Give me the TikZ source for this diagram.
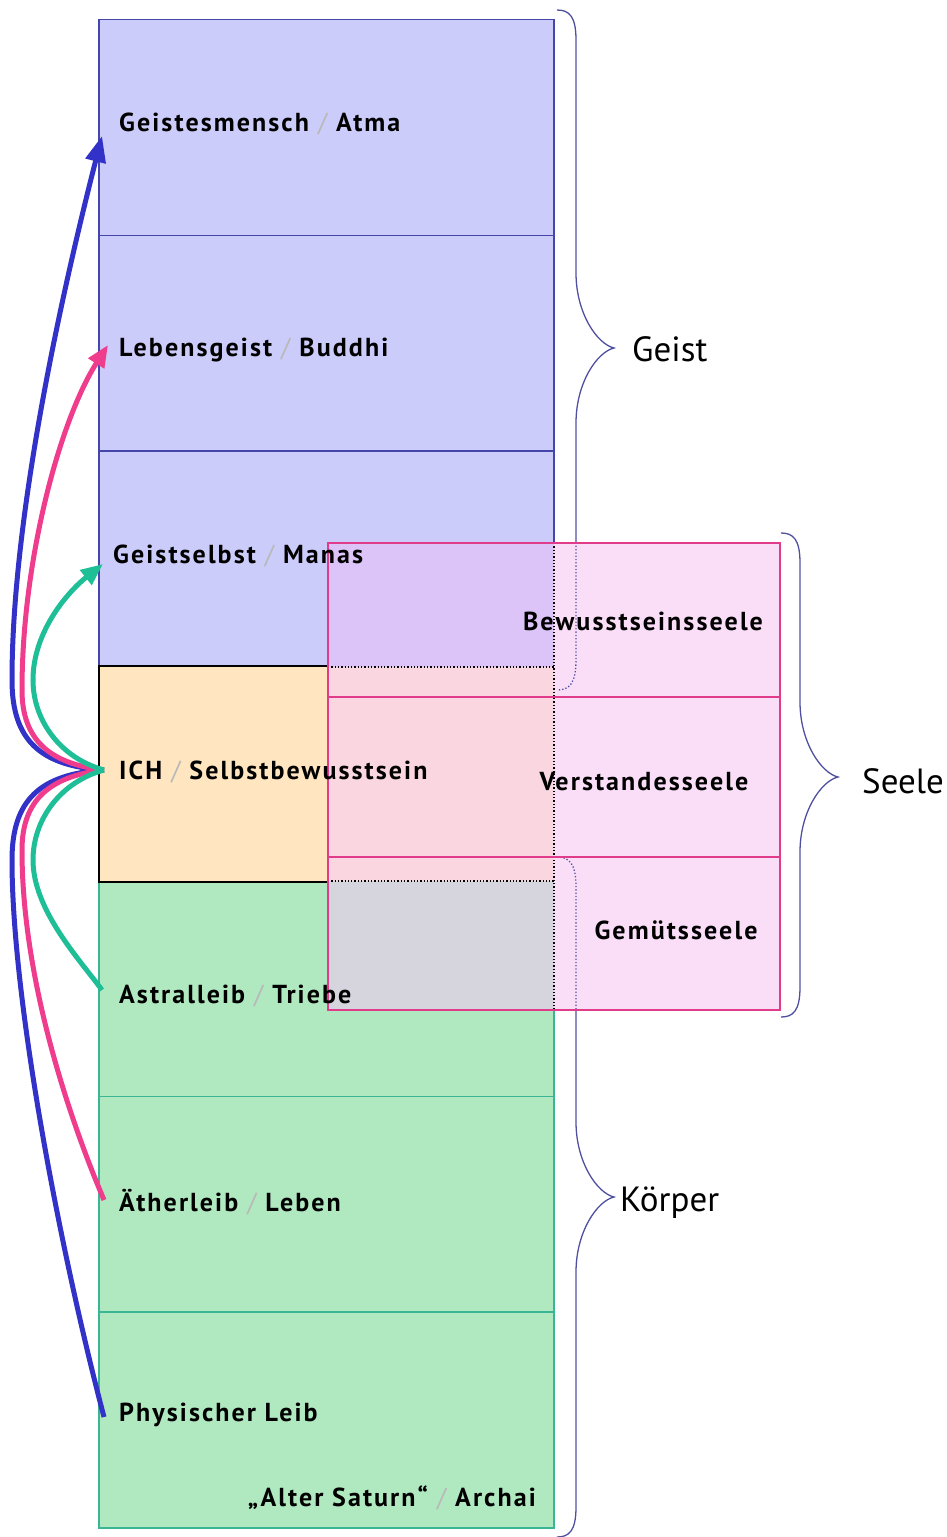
\documentclass[tikz,border=0pt]{standalone}
\usepackage{fontspec}
\setmainfont{PT Sans}
\newfontfamily\lblfont{PT Sans}[LetterSpace=8]
\usetikzlibrary{arrows.meta}
\definecolor{geistfill}{RGB}{204,204,250}
\definecolor{geistdraw}{RGB}{70,70,170}
\definecolor{ichfill}{RGB}{255,230,192}
\definecolor{kfill}{RGB}{176,232,192}
\definecolor{kdraw}{RGB}{60,180,150}
\definecolor{sdraw}{RGB}{225,60,140}
\definecolor{sright}{RGB}{250,222,248}
\definecolor{ovpurple}{RGB}{220,196,248}
\definecolor{ovorange}{RGB}{250,214,224}
\definecolor{ovgreen}{RGB}{214,212,220}
\definecolor{barrow}{RGB}{50,50,200}
\definecolor{parrow}{RGB}{240,60,140}
\definecolor{garrow}{RGB}{30,190,150}
\definecolor{bracec}{RGB}{80,80,160}
\newcommand{\slsep}{\textcolor{gray!55}{\mdseries\ /\ }}
% custom brace: style, x, ytop, ymid, ybot
\newcommand{\cbrace}[5]{%
  \draw[#1] (#2,#3) .. controls ({#2+12},{#3}) and ({#2+19},{#3+6}) .. ({#2+19},{#3+30})
    -- ({#2+19},{#4-75}) .. controls ({#2+19},{#4-35}) and ({#2+40},{#4-4}) .. ({#2+57},{#4})
    .. controls ({#2+40},{#4+4}) and ({#2+19},{#4+35}) .. ({#2+19},{#4+75})
    -- ({#2+19},{#5-30}) .. controls ({#2+19},{#5-6}) and ({#2+12},{#5}) .. (#2,#5);}
\tikzset{
  rowbox/.style={rectangle, minimum width=455pt, minimum height=216pt, inner sep=0pt, line width=1.2pt},
  geistrow/.style={rowbox, fill=geistfill, draw=geistdraw},
  ichrow/.style={rowbox, fill=ichfill, draw=black},
  krow/.style={rowbox, fill=kfill, draw=kdraw},
  lbl/.style={font=\lblfont\fontsize{26}{28}\selectfont\bfseries, inner sep=0pt, anchor=base west},
  seelelbl/.style={font=\lblfont\fontsize{26}{28}\selectfont\bfseries, inner sep=0pt, anchor=base},
  grplbl/.style={font=\fontsize{35}{40}\selectfont, inner sep=0pt, anchor=base west},
  bracestyle/.style={draw=bracec, line width=1.3pt},
  conn/.style={line width=5pt},
}
\begin{document}
\begin{tikzpicture}[x=1pt,y=-1pt]
\useasboundingbox (0,0) rectangle (946,1537);
\fill[white] (0,0) rectangle (946,1537);
% rows
\node[geistrow] (r1) at (326.5,127.5) {};
\node[geistrow] (r2) at (326.5,343.5) {};
\node[geistrow] (r3) at (326.5,559) {};
\node[krow] (r5) at (326.5,989) {};
\node[krow] (r6) at (326.5,1204.5) {};
\node[krow] (r7) at (326.5,1420) {};
\node[ichrow] (r4) at (326.5,774) {};
% braces (solid)
\cbrace{bracestyle}{557}{10}{348}{690}
\cbrace{bracestyle}{557}{857}{1197}{1537}
\cbrace{bracestyle}{781}{533}{777}{1017}
% soul box fills
\fill[ovpurple] (328,543) rectangle (554,667);
\fill[ovorange] (328,667) rectangle (554,881);
\fill[ovgreen] (328,881) rectangle (554,1010);
\fill[sright] (554,543) rectangle (780,1010);
% dotted braces inside soul box
\begin{scope}
\clip (328,543) rectangle (780,1010);
\cbrace{bracestyle, dotted}{557}{10}{348}{690}
\cbrace{bracestyle, dotted}{557}{857}{1197}{1537}
\end{scope}
% dotted continuations
\draw[dotted, line width=1.3pt] (554,543) -- (554,1010);
\draw[dotted, line width=1.3pt] (328,667) -- (554,667);
\draw[dotted, line width=1.3pt] (328,881) -- (554,881);
% soul box borders
\node[rectangle, draw=sdraw, line width=1.3pt, minimum width=452pt, minimum height=467pt, inner sep=0pt] (seele) at (554,776.5) {};
\draw[sdraw, line width=1.3pt] (328,697) -- (780,697);
\draw[sdraw, line width=1.3pt] (328,857) -- (780,857);
% labels
\node[lbl] (l1) at (119,131) {Geistesmensch\slsep Atma};
\node[lbl] (l2) at (119,356) {Lebensgeist\slsep Buddhi};
\node[lbl] (l3) at (113,563) {Geistselbst\slsep Manas};
\node[lbl] (l4) at (119,779) {ICH\slsep Selbstbewusstsein};
\node[lbl] (l5) at (119,1003) {Astralleib\slsep Triebe};
\node[lbl] (l6) at (119,1211) {Ätherleib\slsep Leben};
\node[lbl] (l7) at (119,1421) {Physischer Leib};
\node[lbl, anchor=base east] (l8) at (536,1506) {„Alter Saturn“\slsep Archai};
\node[seelelbl] (s1) at (643,630) {Bewusstseinsseele};
\node[seelelbl] (s2) at (644,790) {Verstandesseele};
\node[seelelbl] (s3) at (676,939) {Gemütsseele};
\node[grplbl] (g1) at (632,361) {Geist};
\node[grplbl] (g2) at (862,793) {Seele};
\node[grplbl] (g3) at (620,1211) {Körper};
% connector endpoints
\coordinate (ich) at (104,770);
\coordinate (pA) at (102,136);
\coordinate (pB) at (108,345);
\coordinate (pC) at (103,564);
\coordinate (pD) at (102,990);
\coordinate (pE) at (104,1200);
\coordinate (pF) at (104,1417);
% connectors
\draw[conn, barrow, -{Triangle[length=26pt,width=20pt]}] (ich) .. controls (40,766) and (12,740) .. (12,680) .. controls (12,520) and (60,300) .. (pA);
\draw[conn, barrow] (ich) .. controls (40,774) and (12,800) .. (12,860) .. controls (12,1000) and (60,1250) .. (pF);
\draw[conn, parrow, -{Triangle[length=22pt,width=18pt]}] (ich) .. controls (50,764) and (22,740) .. (22,690) .. controls (22,560) and (60,420) .. (pB);
\draw[conn, parrow] (ich) .. controls (50,776) and (22,800) .. (22,850) .. controls (22,980) and (70,1120) .. (pE);
\draw[conn, garrow, -{Triangle[length=22pt,width=18pt]}] (ich) .. controls (60,758) and (33,720) .. (33,680) .. controls (33,630) and (70,590) .. (pC);
\draw[conn, garrow] (ich) .. controls (60,782) and (33,820) .. (33,860) .. controls (33,910) and (80,960) .. (pD);
\end{tikzpicture}
\end{document}
